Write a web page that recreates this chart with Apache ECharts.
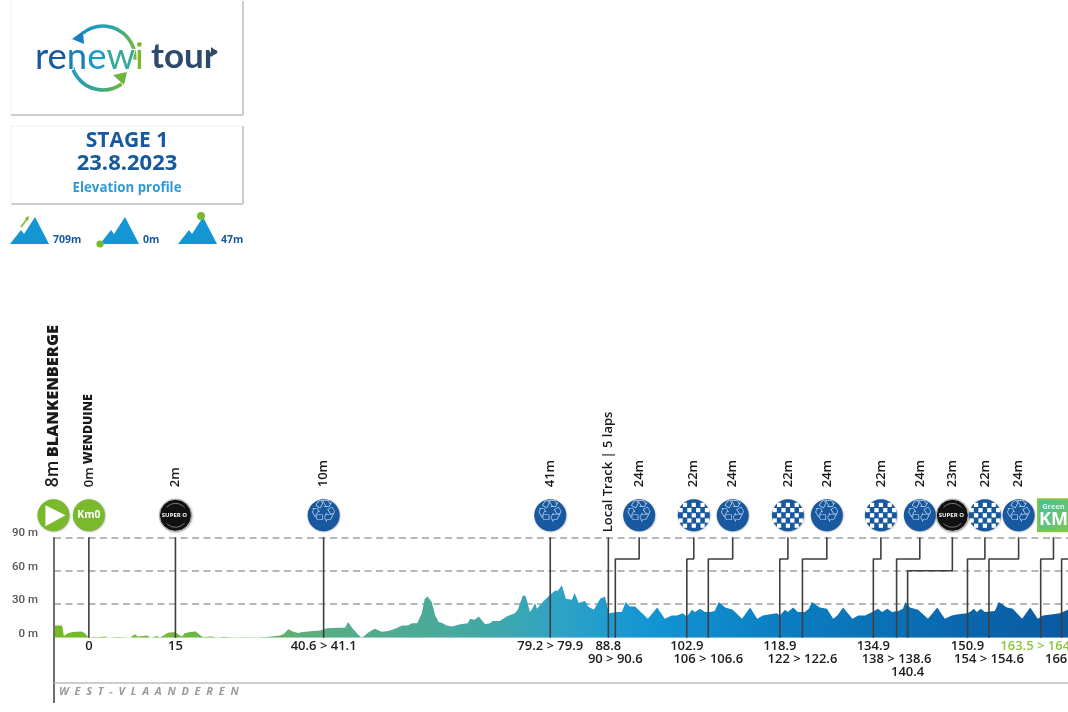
<!DOCTYPE html>
<html><head><meta charset="utf-8">
<style>html,body{margin:0;padding:0;background:#fff}#c{width:1068px;height:712px}</style>
<script src="https://cdn.jsdelivr.net/npm/echarts@6/dist/echarts.min.js"></script>
</head><body><div id="c"></div>
<script>
// Elevation profile: distance (km) and height (m)
const elevKm = [-6,-4.6,-4.3,-3.6,-2.8,-1.2,-0.7,-0.2,0.2,0.9,1.4,2.8,3.3,5,7.1,7.9,8.4,9.3,10,10.7,10.8,11.7,12.2,12.7,13.6,14.8,15.3,16,16.5,17.4,18.4,19.1,19.6,21.2,22.2,23.2,24.6,26.9,29.1,31.5,32.9,33.6,34.3,35.1,36,36.8,38.6,39.8,41,42.7,44.1,44.6,45.3,46.1,46.8,47.3,48,49.2,50.4,51.5,52.7,53.9,54.9,55.6,56.5,57.3,57.8,58.3,59,59.6,60.2,60.9,61.6,62.5,63.9,65.2,65.6,66.4,67.1,68.2,69,69.5,70.7,71.9,73.3,73.8,74.7,75.2,75.9,76.2,76.8,77.1,78.1,79.3,80.2,80.7,81.4,82.1,83.1,83.6,84.3,85.4,85.9,86.9,88,88.8,89.5,89.7,90.9,91.7,92.4,93.1,94,95.2,96.2,97.8,99.1,100.3,101.2,102.2,102.9,103.8,104.3,105.2,106,106.9,107.7,108.4,109.5,110.8,112.4,113.8,115,116,117.2,118.4,118.9,119.8,120.3,121.2,122,123.2,123.9,124.4,125.8,127,128.1,128.8,129.8,131.4,132.4,133.6,134.8,135.8,136.5,137.4,138.2,139.3,140.1,140.5,141.3,142.7,144.4,146,147.3,148.5,149.6,151.1,151.6,152.3,152.8,153.5,154.2,155.9,156.6,158,159,160.6,162,163.3,164.2,165.9,167.1,168.5];
const elevM = [11,11,1.5,4,5,5.5,4,1,0,0.8,0.3,1,0,0.7,0,3,1,1.5,2,0,1,1.5,0.2,1.5,4.5,5,3,1,4,5,5.5,2.5,0.7,1,0,0.8,0.2,0.3,0.2,1,2,3.5,7.5,5.5,4.2,5,6,6.5,8.5,9,9,14,9,4,0.3,1,4.5,8,5.4,6,8,11,11,13,13,22,35,37,32,20,14,13,11,10,12,13,17,16,19,12,13,15,15,19,22,25,38,37,23,25,31,26,32,38,42,42,47,35,34,40,31,33,28,25,35,37,22,23,23,23,32,28,28,22,17,27,17,20,20,22,19,25,23,26,23,23,24,32,27,25,17,27,17,20,21,22,20,25,23,27,23,23,26,32,27,26,17,20,27,17,20,20,23,26,23,26,23,24,26,32,27,25,17,27,17,20,21,22,23,26,23,26,23,24,32,27,26,17,27,17,20,21,22,25];

// Route markers
const markerIcon   = ['km0','super','recycle','recycle','none','recycle','checker','recycle','checker','recycle','checker','recycle','super','checker','recycle','greenkm','none'];
const markerTopKm  = [0,14.9,40.4,79.4,89.4,94.7,104.1,110.8,120.3,127,136.3,143,148.6,154.2,160,166,172.3];
const markerBaseKm = [0,14.9,40.4,79.4,89.4,90.6,102.9,106.6,118.9,122.8,135,139,140.9,151.2,154.9,163.8,167.4];
const markerElbowM = [90,90,90,90,90,70.5,70.5,70.5,70.5,70.5,70.5,70.5,60,70.5,70.5,70.5,70.5];
const markerHeight = ['0m','2m','10m','41m','','24m','22m','24m','22m','24m','22m','24m','23m','22m','24m','',''];
const markerPlace  = ['WENDUINE','','','','Local Track | 5 laps','','','','','','','','','','','',''];
const markerKmText = ['0','15','40.6 > 41.1','79.2 > 79.9','88.8','90 > 90.6','102.9','106 > 106.6','118.9','122 > 122.6','134.9','138 > 138.6','140.4','150.9','154 > 154.6','163.5 > 164.1','166.5'];
const markerKmRow  = [0,0,0,0,0,1,0,1,0,1,0,1,2,0,1,0,1];
const startKm = -6.1, startHeight = '8m', startPlace = 'BLANKENBERGE';

// Axis ticks and page texts
const yTicks = [0,30,60,90];
const stageTitle = 'STAGE 1', stageDate = '23.8.2023', stageSub = 'Elevation profile';
const statTexts = ['709m','0m','47m'];
const regionText = 'W  E  S  T  -  V  L  A  A  N  D  E  R  E  N';

const BLUE='#17589f', SKY='#1396d3', GREEN='#7ab82c', FONT='"Open Sans"';
const chart = echarts.init(document.getElementById('c'), null, {renderer:'canvas'});

function mountain(dx){
  return {type:'polygon', z:5, shape:{points:[[10+dx,244],[21+dx,230],[24+dx,234],[35+dx,217],[49+dx,244]]}, style:{fill:SKY}};
}
function txt(x,y,text,font,fill,align){
  return {type:'text', z:6, x, y, style:{text, font, fill, textAlign:align||'center', textVerticalAlign:'middle'}};
}
const arcGradA = new echarts.graphic.LinearGradient(0,0,1,0,[{offset:0,color:'#1a8fc8'},{offset:.6,color:'#2aa8a8'},{offset:1,color:'#7ab82c'}]);
const arcGradB = new echarts.graphic.LinearGradient(0,0,1,0,[{offset:0,color:'#1a9ac8'},{offset:.6,color:'#3aaa80'},{offset:1,color:'#7ab82c'}]);
const boxLine = {stroke:'#bdbdbd', lineWidth:1.5};
const logoFont='400 36.5px Lato';

const page = [
  {type:'line',z:1,shape:{x1:11,y1:115,x2:243,y2:115},style:boxLine},
  {type:'line',z:1,shape:{x1:243,y1:1,x2:243,y2:115},style:boxLine},
  {type:'line',z:1,shape:{x1:11,y1:0,x2:11,y2:115},style:{stroke:'#eee',lineWidth:1}},
  {type:'line',z:1,shape:{x1:11,y1:204,x2:243,y2:204},style:boxLine},
  {type:'line',z:1,shape:{x1:243,y1:126,x2:243,y2:204},style:boxLine},
  {type:'line',z:1,shape:{x1:11,y1:126,x2:243,y2:126},style:{stroke:'#eee',lineWidth:1}},
  {type:'line',z:1,shape:{x1:11,y1:126,x2:11,y2:204},style:{stroke:'#eee',lineWidth:1}},
  // logo
  {type:'arc',z:4,shape:{cx:103,cy:58,r:32,startAngle:-2.25,endAngle:0.05},style:{stroke:arcGradA,lineWidth:3.6,fill:null}},
  {type:'arc',z:4,shape:{cx:103,cy:58,r:32,startAngle:0.95,endAngle:3.2},style:{stroke:arcGradB,lineWidth:3.6,fill:null}},
  {type:'polygon',z:4,shape:{points:[[72,39],[83,31],[84,44]]},style:{fill:'#1a7fc0'}},
  {type:'polygon',z:4,shape:{points:[[127,72],[124,85],[113,75]]},style:{fill:'#6db53c'}},
  {type:'text',z:5,x:35,y:57,style:{text:'{a|re}{b|n}{c|e}{d|w}{e|i}',textAlign:'left',textVerticalAlign:'middle',stroke:'#fff',lineWidth:2,
    rich:{a:{font:logoFont,fill:'#17589f'},b:{font:logoFont,fill:'#1a80b8'},c:{font:logoFont,fill:'#1a9ac8'},d:{font:logoFont,fill:'#38a898'},e:{font:logoFont,fill:'#7ab82c'}}}},
  {type:'text',z:5,x:151,y:57,style:{text:'tour',font:'700 35px Lato',fill:'#2e4a6b',textAlign:'left',textVerticalAlign:'middle'}},
  {type:'polygon',z:6,shape:{points:[[211,47],[218,52],[211,57]]},style:{fill:'#2e4a6b'}},
  txt(127,141,stageTitle,'700 21px '+FONT,BLUE),
  txt(127,164,stageDate,'700 22px '+FONT,BLUE),
  txt(127,188,stageSub,'700 13.3px '+FONT,'#2f9ad6'),
  mountain(0), mountain(90), mountain(168),
  {type:'line',z:6,shape:{x1:21,y1:227,x2:27,y2:219},style:{stroke:GREEN,lineWidth:1.5}},
  {type:'polygon',z:6,shape:{points:[[25,218],[29,216],[28,221]]},style:{fill:GREEN}},
  {type:'circle',z:6,shape:{cx:100,cy:244,r:3.6},style:{fill:GREEN}},
  {type:'circle',z:6,shape:{cx:201,cy:216,r:4},style:{fill:GREEN}},
  txt(53,240,statTexts[0],'700 10.5px '+FONT,BLUE,'left'),
  txt(143,240,statTexts[1],'700 10.5px '+FONT,BLUE,'left'),
  txt(221,240,statTexts[2],'700 10.5px '+FONT,BLUE,'left'),
  // frame under the profile
  {type:'line',z:8,shape:{x1:54,y1:537,x2:54,y2:703},style:{stroke:'#6e6e6e',lineWidth:2}},
  {type:'line',z:8,shape:{x1:54,y1:683,x2:1068,y2:683},style:{stroke:'#bdbdbd',lineWidth:1.5}},
  txt(59,692,regionText,'italic 700 11px '+FONT,'#9a9a9a','left'),
];

function drawIcon(kind,x,y){
  const R=16, out=[];
  const sh={shadowBlur:2,shadowColor:'rgba(0,0,0,.35)',shadowOffsetX:.5,shadowOffsetY:.5};
  const ring=(c)=>({type:'circle',shape:{cx:x,cy:y,r:R},style:Object.assign({fill:c},sh)});
  if(kind==='play'){
    out.push(ring(GREEN));
    out.push({type:'polygon',shape:{points:[[x-8,y-10],[x+12,y],[x-8,y+11]]},style:{fill:'#fff'}});
  } else if(kind==='km0'){
    out.push(ring(GREEN));
    out.push({type:'text',x,y,style:{text:'Km0',font:'700 10.5px '+FONT,fill:'#fff',textAlign:'center',textVerticalAlign:'middle'}});
  } else if(kind==='super'){
    out.push({type:'circle',shape:{cx:x,cy:y,r:R},style:Object.assign({fill:'#111',stroke:'#bbb',lineWidth:1},sh)});
    out.push({type:'text',x:x-1,y,style:{text:'SUPER O',font:'700 6px '+FONT,fill:'#fff',textAlign:'center',textVerticalAlign:'middle'}});
    out.push({type:'arc',shape:{cx:x,cy:y,r:12,startAngle:-2.4,endAngle:-0.7},style:{stroke:'#777',lineWidth:1,fill:null}});
    out.push({type:'arc',shape:{cx:x,cy:y,r:12,startAngle:0.7,endAngle:2.4},style:{stroke:'#777',lineWidth:1,fill:null}});
  } else if(kind==='recycle'){
    out.push(ring(BLUE));
    out.push({type:'text',x,y:y-1,style:{text:'\u2672',font:'31px "DejaVu Sans"',fill:'#c5d9ee',textAlign:'center',textVerticalAlign:'middle'}});
  } else if(kind==='checker'){
    out.push(ring(BLUE));
    const s=4.2;
    [[-2,0,2],[-3,-1,1,3],[-2,0,2],[-3,-1,1,3],[-2,0,2]].forEach((cols,ri)=>{
      cols.forEach(c=>out.push({type:'rect',shape:{x:x+c*4.4-s/2,y:y+(ri-2)*5.2-s/2,width:s,height:s},style:{fill:'#fff'}}));
    });
  } else if(kind==='greenkm'){
    out.push({type:'rect',shape:{x:x-15.5,y:y-16,width:31,height:32},style:{fill:new echarts.graphic.LinearGradient(0,0,1,1,[{offset:0,color:'#3dbfa8'},{offset:1,color:'#7cc850'}]),stroke:'#8cc63f',lineWidth:2}});
    out.push({type:'text',x,y:y-8,style:{text:'Green',font:'700 7.5px '+FONT,fill:'#e4f5e8',textAlign:'center',textVerticalAlign:'middle'}});
    out.push({type:'text',x,y:y+5,style:{text:'KM',font:'700 18px '+FONT,fill:'#fff',textAlign:'center',textVerticalAlign:'middle'}});
  }
  return out;
}
const vText=(x,y,rich,text)=>({type:'text',x,y,rotation:Math.PI/2,style:{text,rich,textAlign:'left',textVerticalAlign:'middle'}});

const iconSeries = {
  type:'custom', coordinateSystem:'cartesian2d', z:7, silent:true, clip:false,
  data: [[startKm,90]].concat(markerTopKm.map(k=>[k,90])),
  encode:{x:0,y:1},
  renderItem(params,api){
    const i=params.dataIndex, first=i===0;
    const km=first?startKm:markerTopKm[i-1], kind=first?'play':markerIcon[i-1];
    const h=first?startHeight:markerHeight[i-1], place=first?startPlace:markerPlace[i-1];
    const p=api.coord([km,90]), x=p[0], y=p[1]-22;
    const ch=(kind==='none')?[]:drawIcon(kind,x,y);
    const rich={h:{font:(first?'600 17.5px ':'600 13px ')+FONT,fill:'#1a1a1a'},p:{font:(first?'800 16.4px ':'800 12.4px ')+FONT,fill:'#1a1a1a'}};
    if(place==='Local Track | 5 laps'){
      ch.push(vText(x,y+17,{p:{font:'600 13px '+FONT,fill:'#1a1a1a'}},'{p|'+place+'}'));
    } else if(h){
      ch.push(vText(x,y-28,rich,'{h|'+h+'}'+(place?' {p|'+place+'}':'')));
    }
    return {type:'group',children:ch};
  }
};
const kmLabelSeries = {
  type:'custom', coordinateSystem:'cartesian2d', z:7, silent:true, clip:false,
  data: markerBaseKm.map((k,i)=>[k,0]),
  encode:{x:0,y:1},
  renderItem(params,api){
    const i=params.dataIndex, p=api.coord([markerBaseKm[i],0]);
    const t=markerKmText[i];
    return {type:'text',x:p[0],y:p[1]+9+markerKmRow[i]*13,style:{text:t,font:'600 13px '+FONT,fill:t.indexOf('163.5')===0?'#8cc63f':'#1c1c1c',textAlign:'center',textVerticalAlign:'middle'}};
  }
};
const leaderSeries = markerTopKm.map((t,i)=>({
  type:'line', silent:true, symbol:'none', z:6, clip:true, animation:false,
  data:[[t,90],[t,markerElbowM[i]],[markerBaseKm[i],markerElbowM[i]],[markerBaseKm[i],0]],
  lineStyle:{color:'#3f3f3f',width:1.6}
}));

chart.setOption({
  animation:false, backgroundColor:'#fff',
  textStyle:{fontFamily:FONT},
  grid:{left:54,right:0,top:537.3,height:100.4,containLabel:false},
  xAxis:{type:'value',min:-6,max:168.5,show:false},
  yAxis:{type:'value',min:0,max:90,interval:30,
    axisLine:{show:false},axisTick:{show:false},
    axisLabel:{margin:16,fontFamily:'Roboto',fontWeight:500,fontSize:11.5,color:'#555',verticalAlign:'bottom',lineHeight:8,
      formatter:v=>yTicks.indexOf(v)>=0?v+' m':''},
    splitLine:{show:true,showMinLine:false,lineStyle:{color:'#a0a0a0',width:1.5,type:[7,4.5]}}},
  graphic:{elements:page},
  series:[
    {type:'line',silent:true,symbol:'none',z:3,data:elevKm.map((k,i)=>[k,elevM[i]]),
     lineStyle:{width:0},
     areaStyle:{opacity:1,color:new echarts.graphic.LinearGradient(0,0,1,0,[
       {offset:0,color:'#76ba26'},{offset:.12,color:'#74b840'},{offset:.28,color:'#55ad85'},
       {offset:.42,color:'#44a9a4'},{offset:.5,color:'#2fa2c6'},{offset:.58,color:'#1496d4'},
       {offset:.73,color:'#0a7cc0'},{offset:1,color:'#0a5aa2'}])}},
    ...leaderSeries, iconSeries, kmLabelSeries
  ]
});
</script></body></html>
